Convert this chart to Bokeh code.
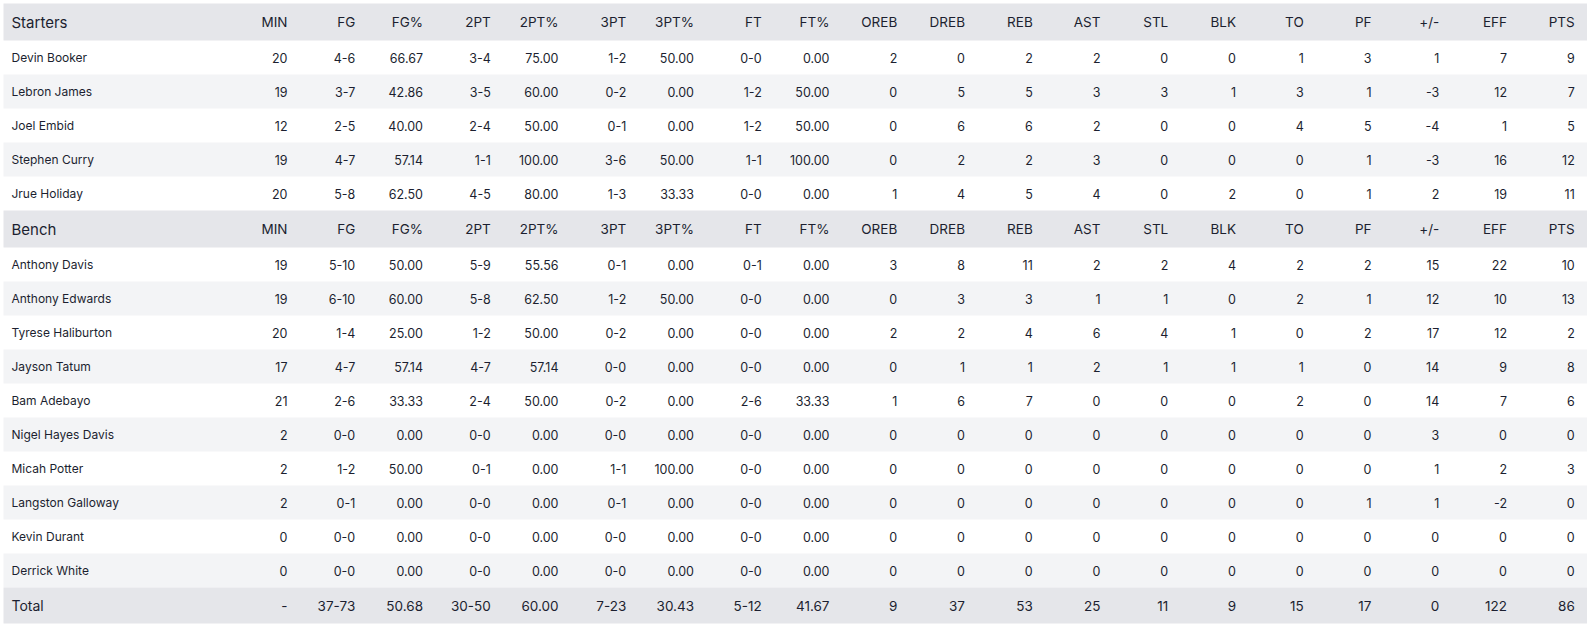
from bokeh.plotting import figure
from bokeh.models import Range1d
from bokeh.core.properties import value
from bokeh.embed import file_html
from bokeh.resources import INLINE

# ---------------- data ----------------
columns = ["MIN", "FG", "FG%", "2PT", "2PT%", "3PT", "3PT%", "FT", "FT%", "OREB",
           "DREB", "REB", "AST", "STL", "BLK", "TO", "PF", "+/-", "EFF", "PTS"]

starter_names = ["Devin Booker", "Lebron James", "Joel Embid", "Stephen Curry", "Jrue Holiday"]
starter_stats = [
    ["20", "4-6", "66.67", "3-4", "75.00", "1-2", "50.00", "0-0", "0.00", "2", "0", "2", "2", "0", "0", "1", "3", "1", "7", "9"],
    ["19", "3-7", "42.86", "3-5", "60.00", "0-2", "0.00", "1-2", "50.00", "0", "5", "5", "3", "3", "1", "3", "1", "-3", "12", "7"],
    ["12", "2-5", "40.00", "2-4", "50.00", "0-1", "0.00", "1-2", "50.00", "0", "6", "6", "2", "0", "0", "4", "5", "-4", "1", "5"],
    ["19", "4-7", "57.14", "1-1", "100.00", "3-6", "50.00", "1-1", "100.00", "0", "2", "2", "3", "0", "0", "0", "1", "-3", "16", "12"],
    ["20", "5-8", "62.50", "4-5", "80.00", "1-3", "33.33", "0-0", "0.00", "1", "4", "5", "4", "0", "2", "0", "1", "2", "19", "11"],
]

bench_names = ["Anthony Davis", "Anthony Edwards", "Tyrese Haliburton", "Jayson Tatum", "Bam Adebayo",
               "Nigel Hayes Davis", "Micah Potter", "Langston Galloway", "Kevin Durant", "Derrick White"]
bench_stats = [
    ["19", "5-10", "50.00", "5-9", "55.56", "0-1", "0.00", "0-1", "0.00", "3", "8", "11", "2", "2", "4", "2", "2", "15", "22", "10"],
    ["19", "6-10", "60.00", "5-8", "62.50", "1-2", "50.00", "0-0", "0.00", "0", "3", "3", "1", "1", "0", "2", "1", "12", "10", "13"],
    ["20", "1-4", "25.00", "1-2", "50.00", "0-2", "0.00", "0-0", "0.00", "2", "2", "4", "6", "4", "1", "0", "2", "17", "12", "2"],
    ["17", "4-7", "57.14", "4-7", "57.14", "0-0", "0.00", "0-0", "0.00", "0", "1", "1", "2", "1", "1", "1", "0", "14", "9", "8"],
    ["21", "2-6", "33.33", "2-4", "50.00", "0-2", "0.00", "2-6", "33.33", "1", "6", "7", "0", "0", "0", "2", "0", "14", "7", "6"],
    ["2", "0-0", "0.00", "0-0", "0.00", "0-0", "0.00", "0-0", "0.00", "0", "0", "0", "0", "0", "0", "0", "0", "3", "0", "0"],
    ["2", "1-2", "50.00", "0-1", "0.00", "1-1", "100.00", "0-0", "0.00", "0", "0", "0", "0", "0", "0", "0", "0", "1", "2", "3"],
    ["2", "0-1", "0.00", "0-0", "0.00", "0-1", "0.00", "0-0", "0.00", "0", "0", "0", "0", "0", "0", "0", "1", "1", "-2", "0"],
    ["0", "0-0", "0.00", "0-0", "0.00", "0-0", "0.00", "0-0", "0.00", "0", "0", "0", "0", "0", "0", "0", "0", "0", "0", "0"],
    ["0", "0-0", "0.00", "0-0", "0.00", "0-0", "0.00", "0-0", "0.00", "0", "0", "0", "0", "0", "0", "0", "0", "0", "0", "0"],
]

total_stats = ["-", "37-73", "50.68", "30-50", "60.00", "7-23", "30.43", "5-12", "41.67", "9",
               "37", "53", "25", "11", "9", "15", "17", "0", "122", "86"]

# ---------------- layout ----------------
FIG_W, FIG_H = 1587, 626
X0, X1 = 3, 1587
Y0 = 3
HEAD_H, ROW_H, TOT_H = 37, 34, 36
NAME_X = 11
COL_R0, COL_STEP = 287, 67.75
col_x = [COL_R0 + COL_STEP * i for i in range(len(columns))]

TEXT = "#1c1f30"
HEAD_BG = "#e5e6ea"
STRIPE_BG = "#f3f4f6"
FONT = "Inter"

rows = []  # (kind, label, stats, top, bottom, striped)
y = Y0
rows.append(("head", "Starters", columns, y, y + HEAD_H, False)); y += HEAD_H
for i, (n, s) in enumerate(zip(starter_names, starter_stats)):
    rows.append(("data", n, s, y, y + ROW_H, i % 2 == 1)); y += ROW_H
rows.append(("head", "Bench", columns, y, y + HEAD_H, False)); y += HEAD_H
for i, (n, s) in enumerate(zip(bench_names, bench_stats)):
    rows.append(("data", n, s, y, y + ROW_H, i % 2 == 1)); y += ROW_H
rows.append(("total", "Total", total_stats, y, y + TOT_H, False)); y += TOT_H
Y1 = y

p = figure(width=FIG_W, height=FIG_H, output_backend="svg", toolbar_location=None,
           x_range=Range1d(0, FIG_W), y_range=Range1d(FIG_H, 0),
           min_border=0, min_border_left=0, min_border_right=0,
           min_border_top=0, min_border_bottom=0)
p.axis.visible = False
p.grid.visible = False
p.outline_line_color = None
p.background_fill_color = "white"
p.border_fill_color = "white"

# backgrounds
bl, br, bt, bb, bc = [], [], [], [], []
for kind, label, stats, top, bot, striped in rows:
    if kind in ("head", "total"):
        col = HEAD_BG
    elif striped:
        col = STRIPE_BG
    else:
        continue
    bl.append(X0); br.append(X1); bt.append(top); bb.append(bot); bc.append(col)
p.quad(left=bl, right=br, top=bt, bottom=bb, fill_color=bc, line_color=None)

# texts
groups = {"head": ([], [], []), "data": ([], [], []), "total": ([], [], [])}
names = {"head": ([], [], []), "data": ([], [], []), "total": ([], [], [])}
for kind, label, stats, top, bot, striped in rows:
    cy = (top + bot) / 2
    names[kind][0].append(NAME_X); names[kind][1].append(cy); names[kind][2].append(label)
    for cx, t in zip(col_x, stats):
        groups[kind][0].append(cx); groups[kind][1].append(cy); groups[kind][2].append(t)

name_sizes = {"head": "15px", "data": "12px", "total": "14px"}
val_sizes = {"head": "13.5px", "data": "12.5px", "total": "13.5px"}
for kind in ("head", "data", "total"):
    xs, ys, ts = names[kind]
    p.text(x=xs, y=ys, text=ts, text_align="left", text_baseline="middle",
           text_font=value(FONT), text_font_size=value(name_sizes[kind]),
           text_color=TEXT)
    xs, ys, ts = groups[kind]
    p.text(x=xs, y=ys, text=ts, text_align="right", text_baseline="middle",
           text_font=value(FONT), text_font_size=value(val_sizes[kind]),
           text_color=TEXT)

open("out.html", "w").write(file_html(p, INLINE))
